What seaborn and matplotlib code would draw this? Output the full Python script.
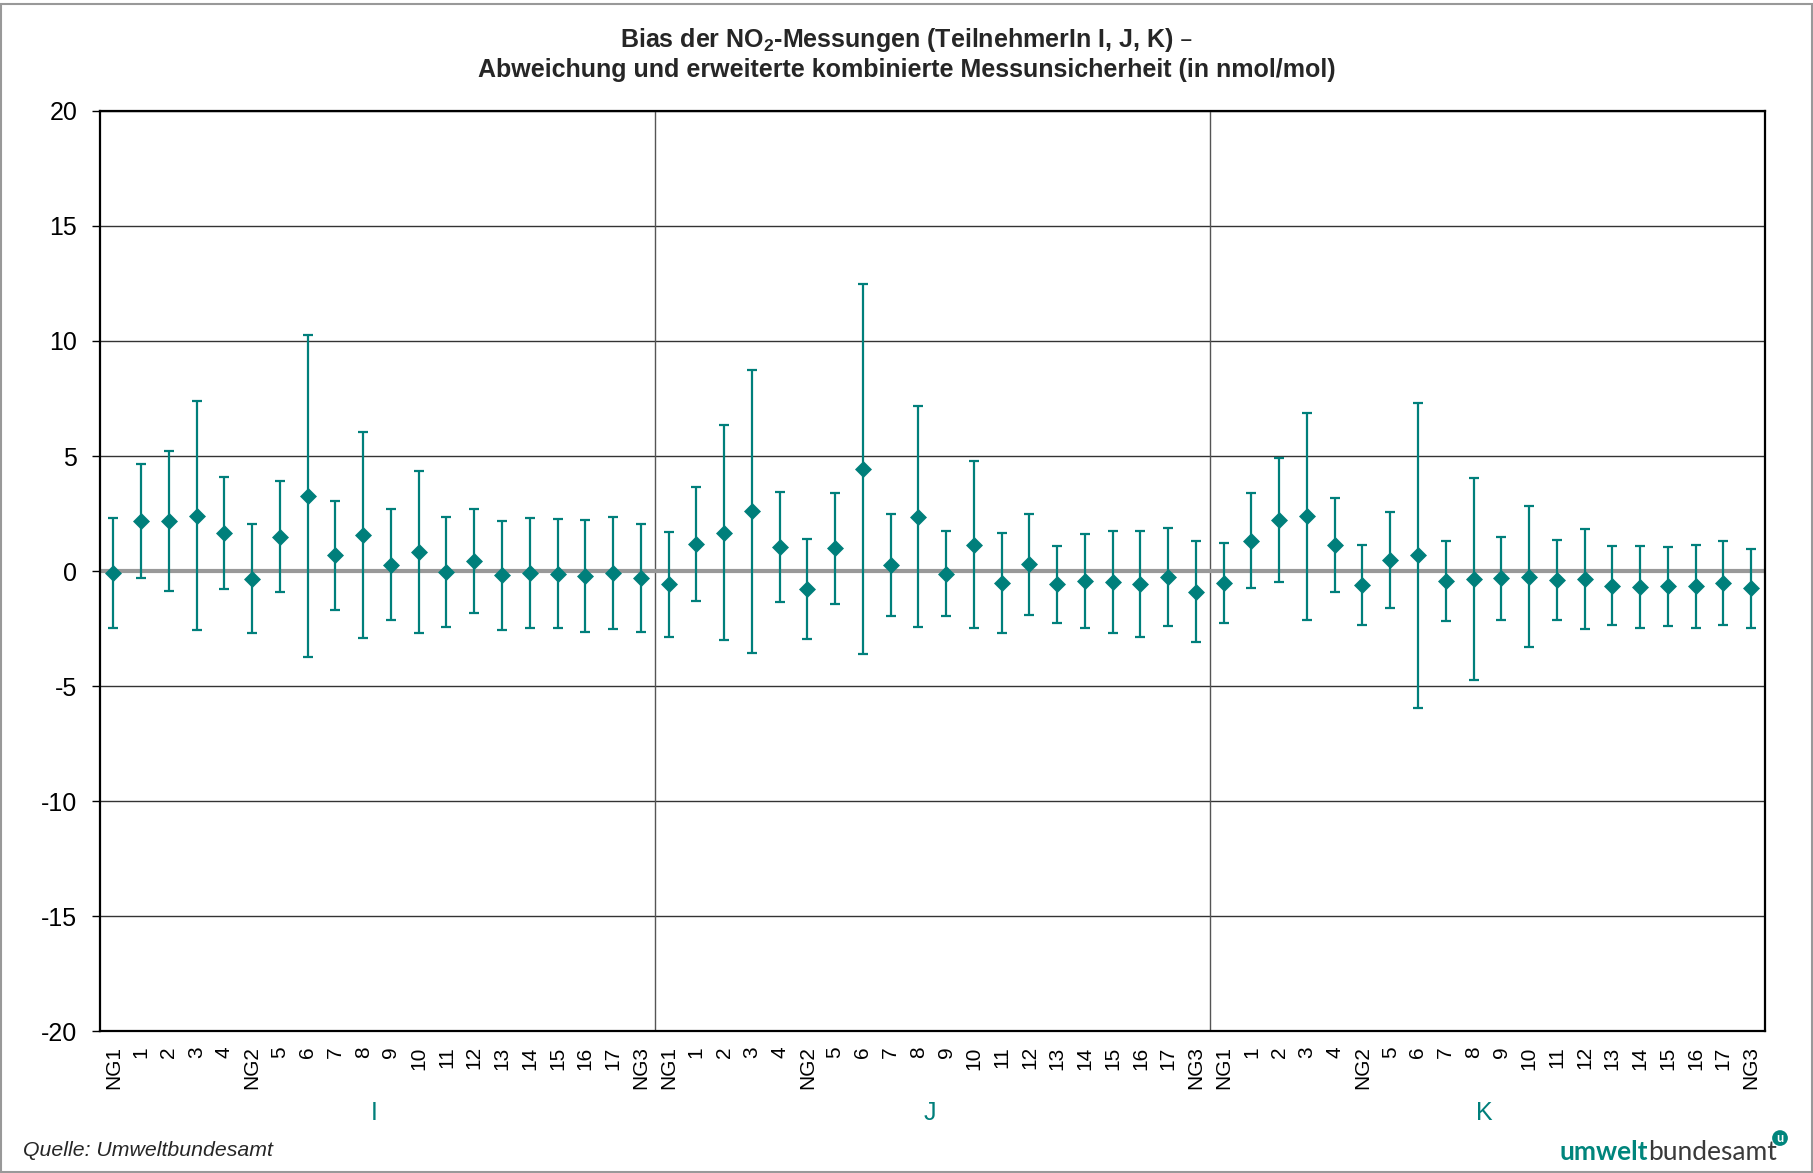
"""
Bias der NO2-Messungen - Abweichung und erweiterte Messunsicherheit
"""

import matplotlib
matplotlib.use('Agg')
import matplotlib.pyplot as plt
import matplotlib.patches as mpatches
import matplotlib.transforms as mtransforms
import numpy as np
import pandas as pd
import seaborn as sns

# Messstellen je Teilnehmer
stations = ['NG1', '1', '2', '3', '4', 'NG2', '5', '6', '7', '8', '9', '10',
            '11', '12', '13', '14', '15', '16', '17', 'NG3']
participants = ['I', 'J', 'K']

# Abweichung (nmol/mol)
bias_i = [-0.07, 2.18, 2.18, 2.41, 1.65, -0.33, 1.49, 3.28, 0.68, 1.55,
          0.27, 0.84, -0.04, 0.45, -0.19, -0.09, -0.12, -0.22, -0.10, -0.30]
bias_j = [-0.58, 1.18, 1.66, 2.59, 1.04, -0.79, 0.98, 4.44, 0.26, 2.37,
          -0.12, 1.14, -0.52, 0.29, -0.58, -0.43, -0.48, -0.55, -0.26, -0.90]
bias_k = [-0.51, 1.32, 2.21, 2.38, 1.13, -0.61, 0.48, 0.68, -0.45, -0.35,
          -0.32, -0.25, -0.39, -0.35, -0.64, -0.68, -0.66, -0.66, -0.52, -0.75]

# erweiterte kombinierte Messunsicherheit (nmol/mol)
unc_i = [2.39, 2.49, 3.05, 4.97, 2.45, 2.38, 2.41, 7.00, 2.38, 4.48,
         2.41, 3.52, 2.40, 2.26, 2.38, 2.40, 2.37, 2.43, 2.44, 2.36]
unc_j = [2.29, 2.48, 4.67, 6.16, 2.40, 2.17, 2.40, 8.04, 2.22, 4.81,
         1.84, 3.63, 2.17, 2.19, 1.66, 2.05, 2.22, 2.30, 2.14, 2.19]
unc_k = [1.74, 2.08, 2.69, 4.50, 2.03, 1.75, 2.10, 6.64, 1.74, 4.38,
         1.80, 3.06, 1.73, 2.16, 1.72, 1.78, 1.72, 1.81, 1.83, 1.72]

teal = '#007F7B'

rows = []
for p, b, u in zip(participants, [bias_i, bias_j, bias_k], [unc_i, unc_j, unc_k]):
    for s, bv, uv in zip(stations, b, u):
        rows.append({'participant': p, 'station': s, 'bias': bv, 'unc': uv})
df = pd.DataFrame(rows)
df['pos'] = np.arange(len(df))

sns.set_theme(style='white')
plt.rcParams['font.family'] = ['Liberation Sans', 'DejaVu Sans']
plt.rcParams['mathtext.default'] = 'regular'
plt.rcParams['axes.unicode_minus'] = False

fig = plt.figure(figsize=(18.13, 11.73), dpi=100)
ax = fig.add_axes([0.0549, 0.121, 0.9186, 0.7844])

# Nulllinie
ax.axhline(0, color='#999999', lw=3, zorder=2)

# Unsicherheitsbalken
ax.errorbar(df['pos'], df['bias'], yerr=df['unc'], fmt='none', ecolor=teal,
            elinewidth=1.6, capsize=3.6, capthick=1.6, zorder=3)

# Abweichung als Rauten
sns.scatterplot(data=df, x='pos', y='bias', marker='D', s=75, color=teal,
                edgecolor=teal, linewidth=0, zorder=4, ax=ax, legend=False)

# Trennlinien zwischen Teilnehmern
n = len(stations)
for k in range(1, len(participants)):
    ax.axvline(k * n - 0.5, color='#555555', lw=1, zorder=1)

ax.set_xlim(-0.5, len(df) - 0.5)
ax.set_ylim(-20, 20)
ax.set_yticks(range(-20, 21, 5))
ax.yaxis.grid(True, color='#333333', lw=1)
ax.set_axisbelow(True)
ax.set_xlabel('')
ax.set_ylabel('')

ax.set_xticks(df['pos'])
ax.set_xticklabels(df['station'], rotation=90, fontsize=15)
ax.tick_params(axis='x', length=0, pad=11, colors='black')
ax.tick_params(axis='y', length=6, width=1, pad=10, labelsize=18,
               direction='out', left=True, colors='black')

for sp in ax.spines.values():
    sp.set_color('black')
    sp.set_linewidth(1.6)

# Teilnehmer-Beschriftung
trans = mtransforms.blended_transform_factory(ax.transData, ax.transAxes)
for k, p in enumerate(participants):
    ax.text(k * n + (n - 1) / 2 - 0.1, -0.0895, p, transform=trans, ha='center',
            va='center', fontsize=18, color=teal)

# Titel
fig.text(0.5, 0.9656, 'Bias der NO$_2$-Messungen (TeilnehmerIn I, J, K) \u2013',
         ha='center', va='center', fontsize=18, fontweight='bold')
fig.text(0.5, 0.940, 'Abweichung und erweiterte kombinierte Messunsicherheit (in nmol/mol)',
         ha='center', va='center', fontsize=18, fontweight='bold')

# Quelle und Logo
fig.text(0.0127, 0.0196, 'Quelle: Umweltbundesamt', ha='left', va='center',
         fontsize=15.3, style='italic')
fig.text(0.909, 0.0179, 'umwelt', ha='right', va='center', fontsize=19,
         fontweight='bold', color='#00857C', family='Lato')
fig.text(0.909, 0.0179, 'bundesamt', ha='left', va='center', fontsize=19,
         color='#3a3a3a', family='Lato')
fig.text(0.9818, 0.0298, 'u', ha='center', va='center', fontsize=9,
         color='white', fontweight='bold', family='Lato',
         bbox=dict(boxstyle='circle,pad=0.15', facecolor='#00857C', edgecolor='none'))

# Rahmen
fig.patches.append(mpatches.Rectangle((0.0008, 0.0008), 0.9984, 0.9962,
                                      transform=fig.transFigure, fill=False,
                                      edgecolor='#999999', lw=1.5))

fig.savefig('out.png', dpi=100, facecolor='white')
plt.close(fig)
